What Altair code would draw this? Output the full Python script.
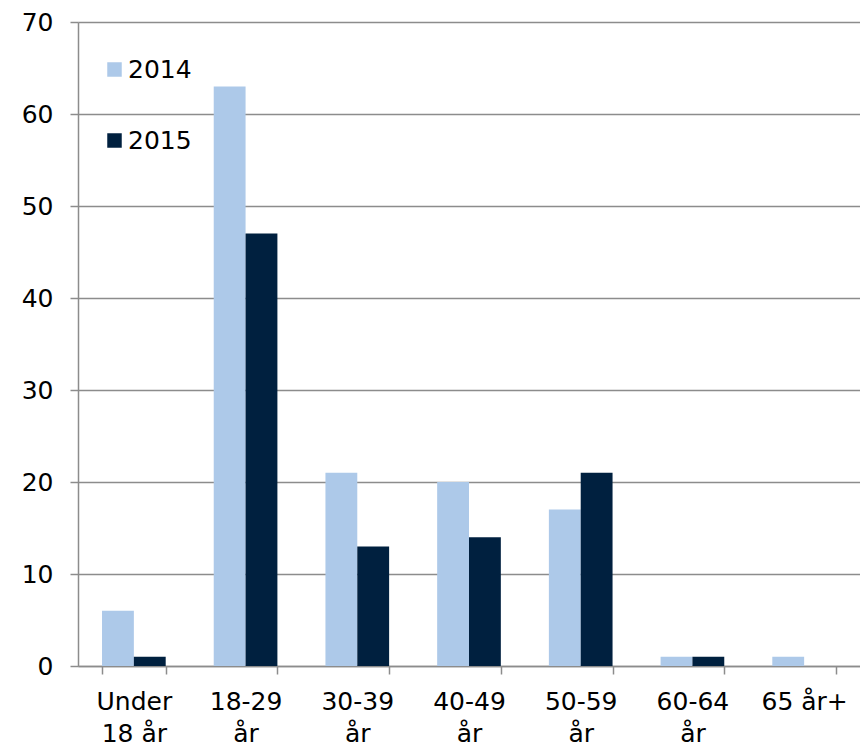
import altair as alt
import pandas as pd

categories = ["Under\n18 år", "18-29\når", "30-39\når", "40-49\når", "50-59\når", "60-64\når", "65 år+"]
years = ["2014", "2015"]
values_2014 = [6, 63, 21, 20, 17, 1, 1]
values_2015 = [1, 47, 13, 14, 21, 1, 0]

rows = []
for c, a, b in zip(categories, values_2014, values_2015):
    rows.append({"cat": c, "year": "2014", "value": a})
    rows.append({"cat": c, "year": "2015", "value": b})
df = pd.DataFrame(rows)

FONT = "DejaVu Sans"
GRID = "#8c8c8c"

chart = alt.Chart(df).mark_bar().encode(
    x=alt.X(
        "cat:N",
        sort=categories,
        title=None,
        scale=alt.Scale(paddingInner=0.43, paddingOuter=0.215),
        axis=alt.Axis(
            labelExpr="split(datum.label, '\\n')",
            labelAngle=0,
            labelFont=FONT,
            labelFontSize=25,
            labelLineHeight=32,
            labelColor="#000000",
            labelPadding=15,
            tickBand="extent",
            tickSize=8,
            tickColor=GRID,
            tickWidth=1.5,
            domainColor=GRID,
            domainWidth=1.5,
            grid=False,
        ),
    ),
    xOffset=alt.XOffset("year:N", sort=years, scale=alt.Scale(paddingInner=0, paddingOuter=0)),
    y=alt.Y(
        "value:Q",
        title=None,
        scale=alt.Scale(domain=[0, 70]),
        axis=alt.Axis(
            values=[0, 10, 20, 30, 40, 50, 60, 70],
            labelFont=FONT,
            labelFontSize=25,
            labelColor="#000000",
            labelPadding=17,
            tickSize=8,
            tickColor=GRID,
            tickWidth=1.5,
            domainColor=GRID,
            domainWidth=1.5,
            grid=True,
            gridColor=GRID,
            gridWidth=1.5,
            minExtent=70,
        ),
    ),
    color=alt.Color(
        "year:N",
        sort=years,
        scale=alt.Scale(domain=years, range=["#adc9e9", "#00203f"]),
        legend=alt.Legend(
            title=None,
            orient="none",
            legendX=24,
            legendY=35,
            padding=0,
            symbolType="square",
            symbolSize=210,
            symbolStrokeWidth=0,
            labelFont=FONT,
            labelFontSize=25,
            labelColor="#000000",
            labelOffset=1,
            rowPadding=45,
        ),
    ),
).properties(
    width=782,
    height=644,
    padding={"left": 0, "top": 2, "right": 0, "bottom": 0},
).configure_view(stroke=None)

chart.save("out.html", embed_options={"renderer": "svg", "actions": False})
